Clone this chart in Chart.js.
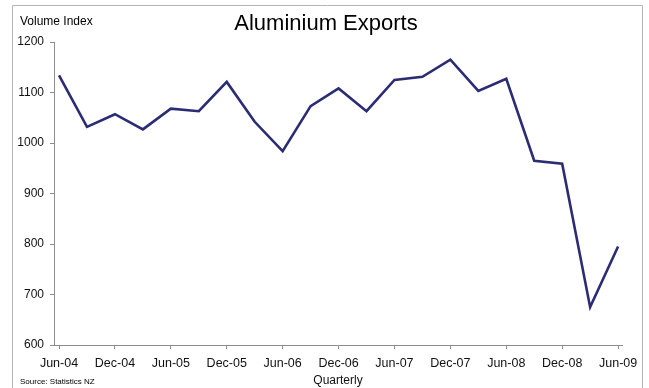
<!DOCTYPE html>
<html>
<head>
<meta charset="utf-8">
<script src="https://cdn.jsdelivr.net/npm/chart.js@4"></script>
<style>
  html, body { margin: 0; padding: 0; background: #fff; }
  #wrap { width: 649px; height: 388px; position: relative; }
</style>
</head>
<body>
<div id="wrap"><canvas id="exportsChart"></canvas></div>
<script>
const quarters = [
    "Jun-04", "Sep-04", "Dec-04", "Mar-05", "Jun-05", "Sep-05", "Dec-05",
    "Mar-06", "Jun-06", "Sep-06", "Dec-06", "Mar-07", "Jun-07", "Sep-07",
    "Dec-07", "Mar-08", "Jun-08", "Sep-08", "Dec-08", "Mar-09", "Jun-09"
];
const volumeIndex = [
    1134, 1032, 1057, 1027, 1068, 1063, 1121,
    1042, 984, 1073, 1108, 1063, 1125, 1131,
    1165, 1103, 1127, 965, 959, 675, 795
];
const yTicks = [600, 700, 800, 900, 1000, 1100, 1200];

const fontFamily = "'Liberation Sans', Arial, sans-serif";
const axisGrey = "#8c8c8c";

/* Frame and free text */
const framePlugin = {
    id: "frame",
    afterDraw(chart) {
        const ctx = chart.ctx;
        ctx.save();
        ctx.strokeStyle = "#b4b4b4";
        ctx.lineWidth = 1;
        ctx.beginPath();
        ctx.moveTo(12.5, 400);
        ctx.lineTo(12.5, 5.5);
        ctx.lineTo(642.5, 5.5);
        ctx.lineTo(642.5, 400);
        ctx.stroke();

        ctx.fillStyle = "#000";
        ctx.textBaseline = "alphabetic";
        ctx.textAlign = "center";
        ctx.font = "22px " + fontFamily;
        ctx.fillText("Aluminium Exports", 326, 30);

        ctx.textAlign = "left";
        ctx.font = "12px " + fontFamily;
        ctx.fillText("Volume Index", 20, 25);

        ctx.font = "8px " + fontFamily;
        ctx.fillText("Source: Statistics NZ", 20, 384);
        ctx.restore();
    }
};

new Chart(document.querySelector("#exportsChart"), {
    type: "line",
    data: {
        datasets: [
            {
                label: "Volume Index",
                data: volumeIndex.map((v, i) => ({ x: i, y: v })),
                borderColor: "#2b2c74",
                borderWidth: 2.6,
                pointRadius: 0,
                tension: 0,
                fill: false
            }
        ]
    },
    options: {
        responsive: true,
        maintainAspectRatio: false,
        animation: false,
        layout: {
            padding: { left: 0, right: 27, top: 42, bottom: 0 }
        },
        plugins: {
            legend: { display: false },
            tooltip: { enabled: false }
        },
        scales: {
            x: {
                type: "linear",
                min: -0.18,
                max: 20.14,
                afterBuildTicks(scale) {
                    scale.ticks = quarters
                        .map((q, i) => ({ value: i }))
                        .filter(t => t.value % 2 === 0);
                },
                afterFit(scale) {
                    scale.height = 43;
                },
                ticks: {
                    callback: value => quarters[value],
                    color: "#111",
                    font: { family: fontFamily, size: 12.5 },
                    padding: 7,
                    maxRotation: 0,
                    autoSkip: false
                },
                grid: {
                    display: true,
                    drawOnChartArea: false,
                    color: axisGrey,
                    tickLength: 4
                },
                border: { display: true, color: axisGrey, width: 1 },
                title: {
                    display: true,
                    text: "Quarterly",
                    color: "#111",
                    font: { family: fontFamily, size: 12 },
                    padding: { top: 0, bottom: 0 }
                }
            },
            y: {
                min: 600,
                max: 1200,
                afterBuildTicks(scale) {
                    scale.ticks = yTicks.map(v => ({ value: v }));
                },
                afterFit(scale) {
                    scale.width = 54;
                },
                ticks: {
                    callback: value => String(value),
                    color: "#111",
                    font: { family: fontFamily, size: 12 },
                    padding: 6
                },
                grid: {
                    display: true,
                    drawOnChartArea: false,
                    color: axisGrey,
                    tickLength: 4
                },
                border: { display: true, color: axisGrey, width: 1 }
            }
        }
    },
    plugins: [framePlugin]
});
</script>
</body>
</html>
